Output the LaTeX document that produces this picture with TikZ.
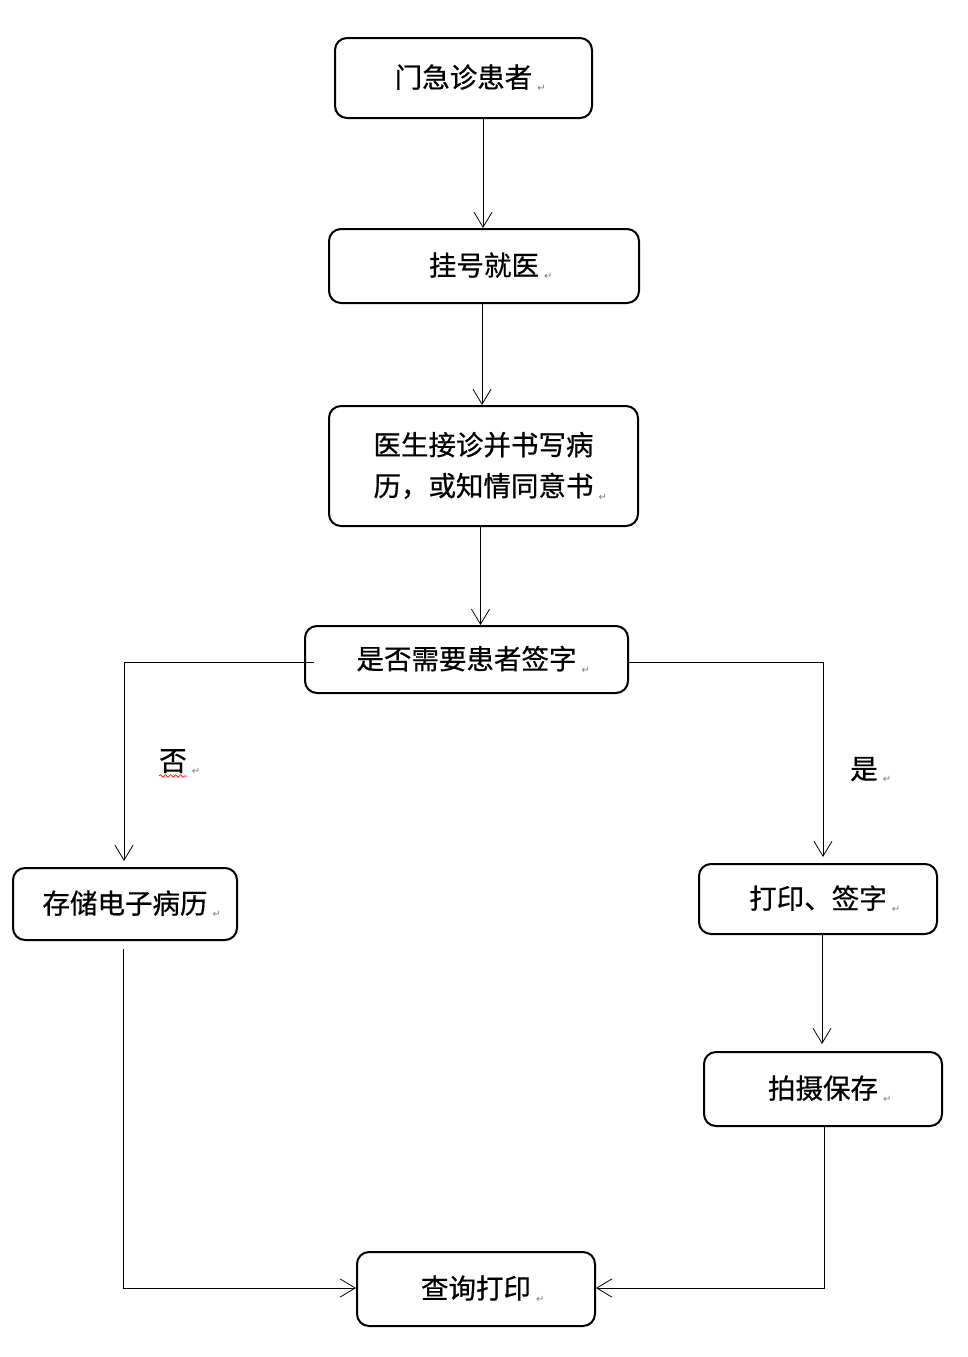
\documentclass[tikz,border=0pt]{standalone}
\usepackage{fontspec}
\newfontfamily\cjk[FakeBold=0.6]{Noto Sans CJK SC}
\newfontfamily\dejavu{DejaVu Sans}
\usetikzlibrary{arrows.meta,decorations.pathmorphing}
\newcommand{\rmk}{\rlap{\hspace{5pt}\raisebox{-4pt}{\dejavu\fontsize{10}{10}\selectfont\color{gray}↵}}}
\begin{document}
\begin{tikzpicture}[x=1pt,y=-1pt,
  box/.style={draw, line width=2pt, rounded corners=12pt, fill=white, inner sep=0pt,
    font=\cjk\fontsize{27.5}{41}\selectfont, align=center},
  lbl/.style={font=\cjk\fontsize{27.5}{30}\selectfont, inner sep=0pt},
  conn/.style={line width=0.8pt, draw=black},
  arr/.style={conn, -{Straight Barb[length=15pt,width=18pt,line width=0.8pt]}}]
\useasboundingbox (0,0) rectangle (967,1357);

\node[box, minimum width=257pt, minimum height=80pt] (n1) at (463.5,78) {门急诊患者\rmk};
\node[box, minimum width=310pt, minimum height=74pt] (n2) at (484,266) {挂号就医\rmk};
\node[box, minimum width=309pt, minimum height=120pt] (n3) at (483.5,466) {医生接诊并书写病\\历，或知情同意书\rmk};
\node[box, minimum width=323pt, minimum height=67pt] (n4) at (466.5,659.5) {是否需要患者签字\rmk};
\node[box, minimum width=224pt, minimum height=72pt] (n5) at (125,904) {存储电子病历\rmk};
\node[box, minimum width=238pt, minimum height=70pt] (n6) at (818,899) {打印、签字\rmk};
\node[box, minimum width=238pt, minimum height=74pt] (n7) at (823,1089) {拍摄保存\rmk};
\node[box, minimum width=238pt, minimum height=74pt] (n8) at (476,1289) {查询打印\rmk};

\node[lbl] (no) at (173,762) {否\rmk};
\node[lbl] (yes) at (864,770) {是\rmk};
\draw[red, line width=0.6pt, decorate, decoration={snake, amplitude=1.3pt, segment length=5pt}]
  ([yshift=-1pt]no.south west) -- ([yshift=-1pt]no.south east);

\draw[arr] (483,0 |- n1.south) -- (483,0 |- n2.north);
\draw[arr] (482,0 |- n2.south) -- (482,0 |- n3.north);
\draw[arr] (480.5,0 |- n3.south) -- (480.5,0 |- n4.north);
\draw[arr, shorten >=6pt] ([xshift=10pt,yshift=-2.5pt]n4.west) -| (124,0 |- n5.north);
\draw[arr, shorten >=6pt] ([yshift=-2.5pt]n4.east) -| (823,0 |- n6.north);
\draw[arr, shorten >=7pt] (822,0 |- n6.south) -- (822,0 |- n7.north);
\draw[arr, shorten <=8pt] (123,0 |- n5.south) |- ([yshift=1pt]n8.west);
\draw[arr] (824,0 |- n7.south) |- ([yshift=1pt]n8.east);
\end{tikzpicture}
\end{document}
